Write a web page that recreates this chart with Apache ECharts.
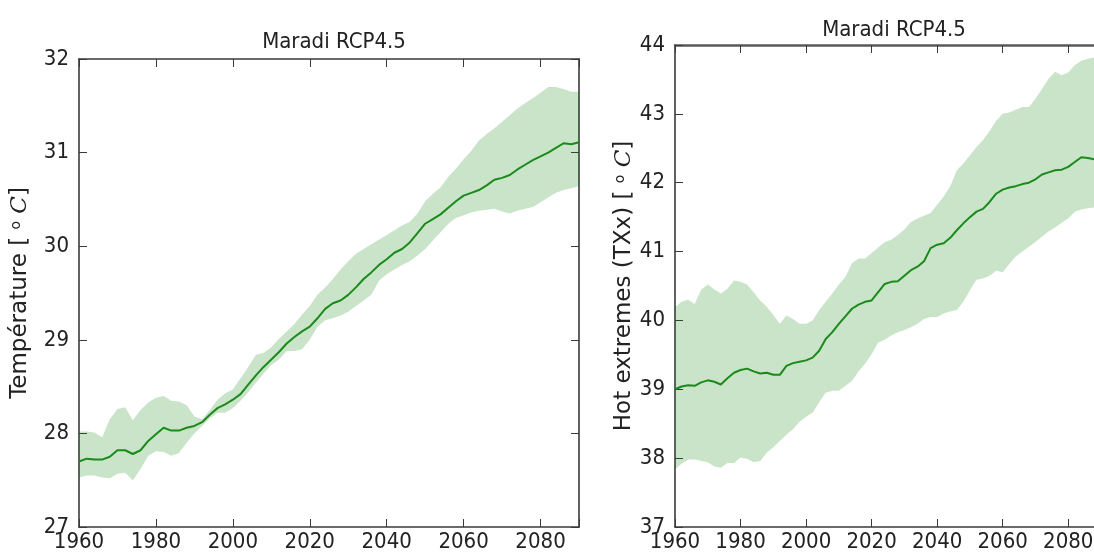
<!DOCTYPE html>
<html>
<head>
<meta charset="utf-8">
<script src="https://cdn.jsdelivr.net/npm/echarts@6/dist/echarts.min.js"></script>
<style>
  html, body { margin: 0; padding: 0; background: #fff; }
  #chart { width: 1094px; height: 554px; }
</style>
</head>
<body>
<div id="chart"></div>
<script>
// years shared by both panels (every 2 years)
var years = [];
for (var y = 1960; y <= 2090; y += 2) years.push(y);

// left panel: mean temperature, model spread
var tempMean = [27.70,27.73,27.72,27.72,27.75,27.82,27.82,27.78,27.82,27.92,27.99,28.06,28.03,28.03,28.06,28.08,28.12,28.20,28.27,28.31,28.36,28.42,28.52,28.62,28.71,28.79,28.87,28.96,29.03,29.09,29.14,29.23,29.33,29.39,29.42,29.48,29.56,29.65,29.72,29.80,29.86,29.93,29.97,30.04,30.14,30.24,30.29,30.34,30.41,30.48,30.54,30.57,30.60,30.65,30.71,30.73,30.76,30.82,30.87,30.92,30.96,31.00,31.05,31.10,31.09,31.11];
var tempUp = [28.02,28.02,28.01,27.96,28.15,28.26,28.28,28.14,28.25,28.33,28.38,28.40,28.35,28.34,28.30,28.18,28.15,28.25,28.36,28.43,28.47,28.59,28.71,28.84,28.86,28.92,29.01,29.09,29.17,29.27,29.36,29.48,29.56,29.65,29.75,29.84,29.92,29.97,30.02,30.07,30.12,30.17,30.22,30.26,30.35,30.48,30.56,30.63,30.74,30.83,30.93,31.02,31.13,31.20,31.26,31.33,31.40,31.47,31.53,31.58,31.64,31.70,31.70,31.68,31.65,31.65];
var tempLow = [27.53,27.55,27.55,27.53,27.52,27.57,27.58,27.50,27.62,27.76,27.81,27.80,27.76,27.79,27.90,28.00,28.08,28.16,28.22,28.22,28.27,28.35,28.44,28.54,28.64,28.73,28.79,28.88,28.88,28.90,29.00,29.14,29.21,29.23,29.26,29.30,29.36,29.42,29.48,29.63,29.70,29.75,29.80,29.84,29.90,29.97,30.06,30.15,30.24,30.30,30.33,30.36,30.38,30.39,30.40,30.37,30.35,30.38,30.40,30.42,30.47,30.52,30.57,30.60,30.62,30.64];

// right panel: hot extremes TXx, model spread
var txxMean = [39.00,39.04,39.06,39.05,39.10,39.13,39.11,39.07,39.16,39.24,39.28,39.30,39.26,39.23,39.24,39.21,39.21,39.34,39.38,39.40,39.42,39.46,39.56,39.73,39.83,39.95,40.06,40.17,40.23,40.27,40.29,40.41,40.53,40.56,40.57,40.65,40.73,40.78,40.86,41.05,41.10,41.12,41.20,41.31,41.41,41.50,41.58,41.62,41.72,41.84,41.90,41.93,41.95,41.98,42.00,42.05,42.12,42.15,42.18,42.19,42.23,42.30,42.37,42.36,42.34,42.35];
var txxUp = [40.19,40.27,40.30,40.24,40.45,40.52,40.45,40.39,40.46,40.58,40.56,40.52,40.41,40.29,40.20,40.08,39.95,40.07,40.02,39.95,39.95,40.00,40.15,40.27,40.39,40.52,40.63,40.83,40.90,40.90,40.98,41.06,41.14,41.17,41.24,41.32,41.43,41.48,41.52,41.56,41.68,41.80,41.95,42.18,42.28,42.40,42.52,42.62,42.75,42.90,43.00,43.02,43.06,43.10,43.10,43.22,43.36,43.51,43.61,43.56,43.60,43.71,43.77,43.80,43.82,43.83];
var txxLow = [37.84,37.92,37.98,37.98,37.96,37.94,37.88,37.86,37.93,37.93,38.01,37.99,37.94,37.96,38.08,38.16,38.25,38.34,38.42,38.53,38.60,38.66,38.81,38.95,38.98,38.98,39.05,39.12,39.26,39.37,39.51,39.68,39.72,39.78,39.83,39.86,39.90,39.95,40.02,40.05,40.05,40.10,40.13,40.15,40.27,40.44,40.59,40.61,40.65,40.72,40.70,40.82,40.93,41.00,41.07,41.14,41.22,41.29,41.35,41.42,41.48,41.58,41.61,41.63,41.64,41.65];

var titleText = 'Maradi RCP4.5';
var xTicks = [1960, 1980, 2000, 2020, 2040, 2060, 2080];

var FONT = '"DejaVu Sans Condensed", "Liberation Sans Narrow", "DejaVu Sans", sans-serif';
var LINE_GREEN = '#1b8a1b';
var FILL_GREEN = 'rgba(0,128,0,0.21)';
var FRAME = '#3a3a3a';

function pairs(xs, vs) {
    return xs.map(function (x, i) { return [x, vs[i]]; });
}

function xAxisPair(gi, topWidth) {
    var base = {
        type: 'value', gridIndex: gi, min: 1960, max: 2090, interval: 20,
        splitLine: { show: false },
        axisLine: { show: true, onZero: false, lineStyle: { color: FRAME, width: 1.6 } },
        axisTick: { show: true, inside: true, length: 8, lineStyle: { color: FRAME, width: 1 } }
    };
    return [
        Object.assign({}, base, {
            position: 'bottom',
            axisLabel: { fontFamily: FONT, fontSize: 22, color: '#222', margin: 4,
                formatter: function (v) { return xTicks.indexOf(v) >= 0 ? String(v) : ''; } }
        }),
        Object.assign({}, base, {
            position: 'top', axisLabel: { show: false },
            axisLine: { show: true, onZero: false, lineStyle: { color: topWidth > 2 ? '#5a5a5a' : FRAME, width: topWidth } }
        })
    ];
}

function yAxisPair(gi, mn, mx, name, gap, rightTicks) {
    var base = {
        type: 'value', gridIndex: gi, min: mn, max: mx, interval: 1,
        splitLine: { show: false },
        axisLine: { show: true, onZero: false, lineStyle: { color: FRAME, width: 1.6 } },
        axisTick: { show: true, inside: true, length: 8, lineStyle: { color: FRAME, width: 1 } }
    };
    return [
        Object.assign({}, base, {
            position: 'left',
            name: name, nameLocation: 'middle', nameGap: gap, nameRotate: 90,
            nameTextStyle: {
                fontFamily: '"DejaVu Sans", sans-serif', fontSize: 23, color: '#222',
                rich: {
                    i: { fontFamily: '"DejaVu Serif", serif', fontStyle: 'italic', fontSize: 23, color: '#222' },
                    s: { fontSize: 14, color: '#222', verticalAlign: 'top' }
                }
            },
            axisLabel: { fontFamily: FONT, fontSize: 22, color: '#222', margin: 10 }
        }),
        Object.assign({}, base, {
            position: 'right', axisLabel: { show: false },
            axisTick: { show: rightTicks, inside: true, length: 8, lineStyle: { color: FRAME, width: 1 } }
        })
    ];
}

// shaded spread drawn as one polygon through the axes' scales
function bandSeries(xi, yi, up, low, mean) {
    return [
        {
            type: 'custom', xAxisIndex: xi, yAxisIndex: yi, silent: true, clip: true, z: 2,
            data: [[years[0], low[0]]],
            renderItem: function (params, api) {
                var pts = [];
                for (var i = 0; i < years.length; i++) pts.push(api.coord([years[i], up[i]]));
                for (var j = years.length - 1; j >= 0; j--) pts.push(api.coord([years[j], low[j]]));
                return { type: 'polygon', shape: { points: pts }, style: { fill: FILL_GREEN } };
            }
        },
        {
            type: 'line', xAxisIndex: xi, yAxisIndex: yi,
            data: pairs(years, mean), symbol: 'none', silent: true, z: 5,
            lineStyle: { color: LINE_GREEN, width: 2 }
        }
    ];
}

var chart = echarts.init(document.getElementById('chart'));
var xa = xAxisPair(0, 1.6).concat(xAxisPair(1, 2.5));
var ya = yAxisPair(0, 27, 32, 'Température [ {s|o} {i|C}]', 47, true)
    .concat(yAxisPair(1, 37, 44, 'Hot extremes (TXx) [ {s|o} {i|C}]', 35, false));

var option = {
    animation: false,
    backgroundColor: '#fff',
    title: [
        { text: titleText, left: 329, top: 26, textAlign: 'center',
          textStyle: { fontFamily: FONT, fontSize: 22, fontWeight: 'normal', color: '#222' } },
        { text: titleText, left: 889, top: 14, textAlign: 'center',
          textStyle: { fontFamily: FONT, fontSize: 22, fontWeight: 'normal', color: '#222' } }
    ],
    grid: [
        { left: 79, top: 59, width: 500, height: 468, outerBoundsMode: 'none' },
        { left: 675, top: 45, width: 426, height: 482, outerBoundsMode: 'none' }
    ],
    xAxis: xa,
    yAxis: ya,
    series: bandSeries(0, 0, tempUp, tempLow, tempMean)
        .concat(bandSeries(2, 2, txxUp, txxLow, txxMean))
};
chart.setOption(option);
</script>
</body>
</html>
